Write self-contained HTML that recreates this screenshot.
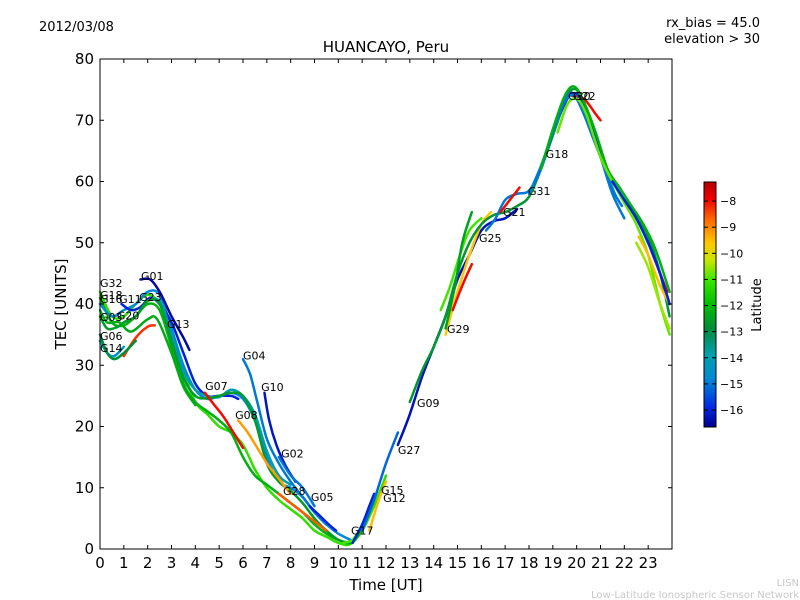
<!DOCTYPE html>
<html><head><meta charset="utf-8"><style>
body{margin:0;background:#fff;}
svg{display:block;font-family:"DejaVu Sans","Liberation Sans",sans-serif;}
</style></head><body>
<svg id="chart" width="800" height="600" viewBox="0 0 800 600">
<rect width="800" height="600" fill="#fff"/>
<text x="39" y="31" font-size="13">2012/03/08</text>
<text x="760" y="27" font-size="13" text-anchor="end">rx_bias = 45.0</text>
<text x="760" y="43" font-size="13" text-anchor="end">elevation &gt; 30</text>
<text x="386" y="52" font-size="15" text-anchor="middle">HUANCAYO, Peru</text>
<g id="plot"></g>
<rect x="100" y="59" width="572" height="490" fill="none" stroke="#000" stroke-width="1"/>
<g id="xticks"></g>
<g id="yticks"></g>
<text x="386" y="590" font-size="15" text-anchor="middle">Time [UT]</text>
<text transform="translate(66,304) rotate(-90)" font-size="15" text-anchor="middle">TEC [UNITS]</text>
<g id="cbar"></g>
<text transform="translate(761,305) rotate(-90)" font-size="13" text-anchor="middle">Latitude</text>
<text x="799" y="586" font-size="10" fill="#c8c8c8" text-anchor="end">LISN</text>
<text x="799" y="598" font-size="10" fill="#c8c8c8" text-anchor="end">Low-Latitude Ionospheric Sensor Network</text>
</svg>
<script>
const xTicks=[0,1,2,3,4,5,6,7,8,9,10,11,12,13,14,15,16,17,18,19,20,21,22,23];
const yTicks=[0,10,20,30,40,50,60,70,80];
const cbTicks=[-8,-9,-10,-11,-12,-13,-14,-15,-16];
const trackNames=["G32","G18a","G16","G11","G01","G13","G14r","G20","G03","G06","G14","G07","G08","G04","G10","G02","G28","G05","G17","G15","G12","G27","G09","G29","G29r","G29y","G29g","G25","G21","G31","G30r","G22","G22c","G30g","G22y","Gr1","Gr2","Gr3","Gr4"];
const trackLats=[-11.2,-12.2,-14.8,-16,-16.5,-14,-8.3,-12.6,-12.3,-14.5,-12.8,-8,-9.2,-15,-16.2,-15,-8.6,-16,-11,-16,-9.5,-15.2,-16.3,-9.6,-8,-11,-12.5,-12.7,-15,-8,-8,-16,-15,-12.2,-10.8,-9.5,-10.5,-8,-16];
const trackPoints=[
[[0,42],[0.5,38],[1,38],[1.5,40],[2,41.5],[2.5,40],[3,35],[3.5,29],[4,24],[4.5,22],[5,20],[5.5,19],[6,17],[6.5,13],[7,10],[7.5,8],[8,6.5],[8.5,5],[9,3],[9.5,2],[10,1],[10.5,0.8],[11,3],[11.5,7],[12,12]],
[[0,41],[0.5,37],[1,36.5],[1.5,38],[2,40],[2.5,39],[3,33],[3.5,27],[4,24],[4.5,22.5],[5,21],[5.5,19],[6,15],[6.5,12],[7,10.5],[7.5,9],[8,7.5],[8.5,6],[9,4],[9.5,2.5],[10,1.5],[10.5,1],[11,3]],
[[0,40],[0.5,38],[1,39],[1.5,40],[2,42],[2.5,41.5],[3,36],[3.5,30],[4,26],[4.5,24.5],[5,25],[5.5,25.5],[6,24.5],[6.5,21],[7,15],[7.5,11],[8,10],[8.5,8.5],[9,6],[9.5,4],[10,2.5],[10.5,1.5]],
[[0.9,40],[1.3,39],[1.7,39.5],[2.1,41],[2.5,40],[3,37],[3.5,32],[4,27],[4.5,25],[5,25],[5.5,25],[5.8,24.5]],
[[1.7,44],[2.1,44],[2.5,42],[3,38],[3.5,34.5],[3.75,32.5]],
[[2.2,41],[2.6,40],[3,35],[3.5,29],[4,26],[4.5,25],[5,24.8],[5.5,26],[6,25],[6.5,22],[7,16],[7.5,12],[8,10.5]],
[[1,31.5],[1.5,34.5],[2,36.3],[2.3,36.5]],
[[0,38],[0.3,36],[0.7,36.2],[1,37],[1.5,38],[2,40.5],[2.5,40],[3,34],[3.5,28],[4,25],[4.5,24.6],[5,25],[5.5,25.5],[6,25],[6.5,21],[7,14],[7.5,11],[8,9.5],[8.5,7.5],[9,5],[9.5,3],[10,1.5],[10.5,1]],
[[0,39],[0.3,37],[0.8,37],[1.3,35.5],[2,37.5],[2.4,37.5],[3,32],[3.5,26.5],[4,23.5]],
[[0,34],[0.3,32],[0.6,31.5],[1,33]],
[[0,35],[0.3,32],[0.6,31],[1,32],[1.5,34]],
[[4.4,25.5],[4.8,23.5],[5.2,21.5],[5.6,19],[6,16.5]],
[[5.8,21],[6.2,19],[6.6,16.5],[7,14],[7.5,11.5],[8,9]],
[[6,31],[6.3,28.5],[6.6,24],[7,18],[7.5,14],[8,11],[8.5,8.5],[9,6],[9.5,4]],
[[6.9,25.5],[7.1,21],[7.4,17],[7.8,13.5],[8.2,11]],
[[7.5,15],[8,12],[8.5,10],[9,7]],
[[7.5,9],[8,7.5],[8.5,6],[9,4.5],[9.5,3]],
[[8.8,7],[9.2,5.5],[9.6,4],[9.9,3]],
[[10.2,1],[10.6,1.5],[11,4],[11.5,9]],
[[10.6,1],[11,4],[11.3,7],[11.5,9]],
[[11.3,3],[11.7,8],[12,11]],
[[11,3],[11.5,8],[12,14],[12.5,19]],
[[12.5,17],[13,22],[13.5,28],[14,33],[14.5,38],[15,44],[15.5,48],[16,52],[16.5,53.5],[17,54],[17.5,55.5]],
[[14.5,35],[15,42],[15.5,48],[16,53],[16.4,55]],
[[14.8,39],[15.2,43],[15.6,46.5]],
[[14.3,39],[14.7,43],[15.1,48],[15.5,52],[16,54]],
[[14.5,36],[14.9,43],[15.2,50],[15.6,55]],
[[13,24],[13.5,29],[14,33],[14.5,38],[15,45],[15.5,50],[16,53],[16.5,54.5],[17,55],[17.5,56],[18,57.5],[18.5,62],[19,67.5],[19.5,73],[19.8,75],[20.1,74.5],[20.5,71],[21,65],[21.5,60],[22,57],[22.5,54.5],[23,51],[23.5,45],[23.9,38]],
[[16.2,52],[16.6,54],[17,57],[17.5,58],[18,58.5],[18.5,62],[19,68],[19.5,73],[19.8,74.5],[20.2,72],[20.6,68],[21,64],[21.5,58],[22,54]],
[[16.8,55],[17.2,57],[17.6,59]],
[[19.8,74],[20.3,73.5],[20.8,71],[21,70]],
[[19.3,71],[19.7,74],[20.1,74],[20.5,70],[21,65],[21.5,60],[22,57],[22.5,54],[23,50],[23.5,45],[23.9,40]],
[[18,58],[18.5,62.5],[19,68],[19.5,73],[19.9,74],[20.3,71],[20.7,67],[21.2,62],[21.6,58],[21.9,56]],
[[18.5,62],[19,68.5],[19.5,74],[19.9,75.5],[20.3,73],[20.8,68],[21.3,62],[21.8,59],[22.3,56],[22.8,53],[23.3,49],[23.9,42]],
[[19.2,68],[19.6,72.5],[20,73.5],[20.4,71],[21,64],[21.5,60],[22,56.5],[22.5,53],[23,48],[23.5,40],[23.9,35]],
[[22.6,51],[23,48],[23.5,43],[23.9,40]],
[[22.5,50],[23,46],[23.5,40],[23.9,36]],
[[23.1,49],[23.5,45],[23.8,42]],
[[21.5,60],[22,57],[22.5,54],[23,50],[23.5,45],[23.9,40]]
];
const labelNames=["G32","G18","G16","G11","G23","G01","G03","G20","G13","G06","G14","G04","G07","G10","G08","G02","G28","G05","G17","G15","G12","G27","G09","G29","G25","G21","G31","G18","G30","G22"];
const labelT=[0,0,0,0.8,1.64,1.72,0,0.71,2.81,0,0,6.0,4.41,6.76,5.67,7.6,7.68,8.85,10.53,11.79,11.88,12.5,13.3,14.56,15.9,16.91,17.96,18.7,19.64,19.85];
const labelV=[42.8,40.8,40.2,40.2,40.5,43.9,37.2,37.5,36.1,34.1,32.2,30.9,26,25.8,21.2,14.9,8.8,7.8,2.4,9,7.7,15.5,23.2,35.3,50.1,54.4,57.8,63.8,73.3,73.3];

const NS="http://www.w3.org/2000/svg";
const X0=100,X1=672,Y0=549,Y1=59;
function xs(t){return X0+t/24*(X1-X0);}
function ys(v){return Y0-v/80*(Y0-Y1);}
const CB_TOP=182,CB_BOT=427,CB_MAX=-7.27,CB_MIN=-16.65;
function cbY(l){return CB_TOP+(CB_MAX-l)/(CB_MAX-CB_MIN)*(CB_BOT-CB_TOP);}
const cmapStops=[[0,0,0,140],[0.08,0,40,230],[0.2,0,140,210],[0.3,0,160,170],[0.4,0,140,60],[0.5,0,190,0],[0.6,60,230,0],[0.68,200,230,0],[0.75,255,200,0],[0.85,255,100,0],[0.93,240,0,0],[1,180,0,0]];
function cmap(f){
  f=Math.max(0,Math.min(1,f));
  for(let i=1;i<cmapStops.length;i++){
    const a=cmapStops[i-1],b=cmapStops[i];
    if(f<=b[0]){const u=(f-a[0])/(b[0]-a[0]);
      return `rgb(${Math.round(a[1]+u*(b[1]-a[1]))},${Math.round(a[2]+u*(b[2]-a[2]))},${Math.round(a[3]+u*(b[3]-a[3]))})`;}
  }
  return 'rgb(180,0,0)';
}
function latColor(l){return cmap((l-CB_MIN)/(CB_MAX-CB_MIN));}
function mk(tag,attrs,parent){const e=document.createElementNS(NS,tag);for(const k in attrs)e.setAttribute(k,attrs[k]);parent.appendChild(e);return e;}
function smoothPath(p){
  let d='M'+p[0][0].toFixed(1)+','+p[0][1].toFixed(1);
  for(let i=0;i<p.length-1;i++){
    const p0=p[i-1]||p[i],p1=p[i],p2=p[i+1],p3=p[i+2]||p2;
    const c1=[p1[0]+(p2[0]-p0[0])/6,p1[1]+(p2[1]-p0[1])/6];
    const c2=[p2[0]-(p3[0]-p1[0])/6,p2[1]-(p3[1]-p1[1])/6];
    d+=` C${c1[0].toFixed(1)},${c1[1].toFixed(1)} ${c2[0].toFixed(1)},${c2[1].toFixed(1)} ${p2[0].toFixed(1)},${p2[1].toFixed(1)}`;
  }
  return d;
}

const plot=document.getElementById('plot');
trackPoints.forEach((pts,i)=>{
  const px=pts.map(p=>[xs(p[0]),ys(p[1])]);
  const p=mk('path',{d:smoothPath(px),fill:'none',stroke:latColor(trackLats[i]),'stroke-width':2.5,'stroke-linejoin':'round','stroke-linecap':'round'},plot);
  
  
});
labelNames.forEach((n,i)=>{
  const t=mk('text',{x:xs(labelT[i]),y:ys(labelV[i]),'font-size':11},plot);
  t.textContent=n;
  
  
});
const xg=document.getElementById('xticks');
xTicks.forEach(t=>{
  const x=xs(t);
  const l1=mk('line',{x1:x,x2:x,y1:Y0,y2:Y0-4,stroke:'#000'},xg);
  
  
  mk('line',{x1:x,x2:x,y1:Y1,y2:Y1+4,stroke:'#000'},xg);
  const tx=mk('text',{x:x,y:568,'font-size':15,'text-anchor':'middle'},xg);
  tx.textContent=t;
  
  
});
const yg=document.getElementById('yticks');
yTicks.forEach(v=>{
  const y=ys(v);
  const l1=mk('line',{x1:X0,x2:X0+4,y1:y,y2:y,stroke:'#000'},yg);
  
  
  mk('line',{x1:X1,x2:X1-4,y1:y,y2:y,stroke:'#000'},yg);
  const tx=mk('text',{x:94,y:y+5,'font-size':15,'text-anchor':'end'},yg);
  tx.textContent=v;
  
  
});
const cb=document.getElementById('cbar');
for(let y=CB_TOP;y<CB_BOT;y++){
  const f=1-(y-CB_TOP+0.5)/(CB_BOT-CB_TOP);
  mk('rect',{x:704,y:y,width:12,height:1.2,fill:cmap(f)},cb);
}
mk('rect',{x:704,y:CB_TOP,width:12,height:CB_BOT-CB_TOP,fill:'none',stroke:'#000'},cb);
cbTicks.forEach(l=>{
  const y=cbY(l);
  mk('line',{x1:716,x2:712,y1:y,y2:y,stroke:'#000'},cb);
  mk('line',{x1:704,x2:708,y1:y,y2:y,stroke:'#000'},cb);
  const tx=mk('text',{x:720,y:y+4,'font-size':11},cb);
  tx.textContent='\u2212'+Math.abs(l);
  
  
});
</script>
</body></html>
